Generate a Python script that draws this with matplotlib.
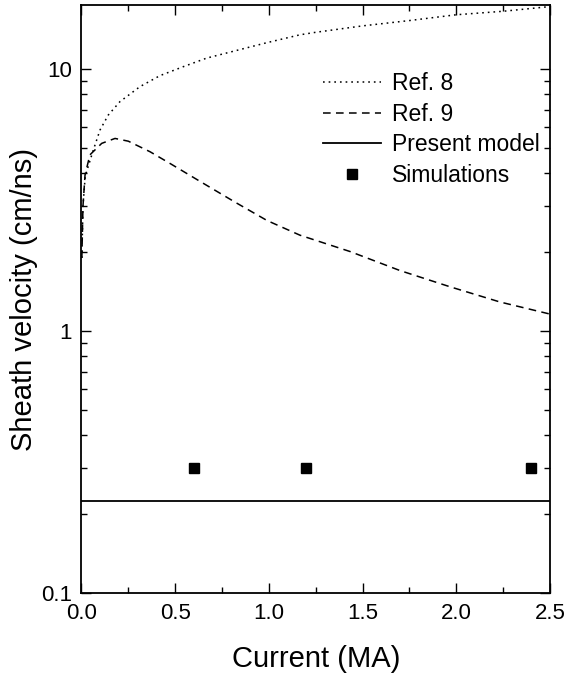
import numpy as np
import matplotlib
matplotlib.use("Agg")
import matplotlib.pyplot as plt
from matplotlib.ticker import MultipleLocator, LogLocator, FixedLocator, NullFormatter

plt.rcParams['font.family'] = ['Liberation Sans', 'DejaVu Sans']

# Ref. 8 (dotted)
x_ref8 = [0.002, 0.008, 0.02, 0.063, 0.099, 0.143, 0.205, 0.312, 0.419, 0.543,
          0.668, 0.99, 1.166, 1.25, 1.5, 1.75, 2.0, 2.25, 2.5]
v_ref8 = [1.9, 3.0, 3.9, 4.9, 5.85, 6.67, 7.5, 8.56, 9.43, 10.2,
          11.0, 12.6, 13.5, 13.8, 14.6, 15.3, 16.1, 16.6, 17.3]

# Ref. 9 (dashed)
x_ref9 = [0.002, 0.008, 0.019, 0.045, 0.108, 0.179, 0.25, 0.366, 0.472, 0.65,
          0.82, 0.99, 1.166, 1.433, 1.70, 1.966, 2.233, 2.5]
v_ref9 = [1.9, 3.0, 3.94, 4.7, 5.2, 5.43, 5.3, 4.83, 4.36, 3.66,
          3.1, 2.64, 2.32, 2.01, 1.70, 1.475, 1.29, 1.16]

# present model (solid)
x_model = [0.0, 2.5]
v_model = [0.224, 0.224]

# simulations
x_sim = [0.6, 1.2, 2.4]
v_sim = [0.30, 0.30, 0.30]

fig = plt.figure(figsize=(5.67, 6.75), dpi=100)
ax = fig.add_axes([0.1437, 0.1215, 0.8263, 0.8707])

ax.plot(x_ref8, v_ref8, color='black', lw=1.1, dashes=(1.1, 2.6), label='Ref. 8')
ax.plot(x_ref9, v_ref9, color='black', lw=1.1, dashes=(5, 3.5), label='Ref. 9')
ax.plot(x_model, v_model, color='black', lw=1.3, label='Present model')
ax.plot(x_sim, v_sim, 's', color='black', ms=7, label='Simulations')

ax.set_yscale('log')
ax.set_xlim(0, 2.5)
ax.set_ylim(0.1, 17.5)

ax.xaxis.set_major_locator(MultipleLocator(0.5))
ax.xaxis.set_minor_locator(MultipleLocator(0.25))
ax.xaxis.set_major_formatter(matplotlib.ticker.FormatStrFormatter('%.1f'))
ax.yaxis.set_major_locator(FixedLocator([0.1, 1, 10]))
ax.yaxis.set_major_formatter(matplotlib.ticker.FixedFormatter(['0.1', '1', '10']))
ax.yaxis.set_minor_locator(LogLocator(base=10, subs=np.arange(2, 10)))
ax.yaxis.set_minor_formatter(NullFormatter())

ax.tick_params(which='both', direction='in', top=True, right=True, width=1.0)
ax.tick_params(which='major', length=7, labelsize=16)
ax.tick_params(which='minor', length=4)
ax.tick_params(axis='x', which='major', pad=7)
ax.tick_params(axis='y', which='major', pad=7)
for s in ax.spines.values():
    s.set_linewidth(1.3)

ax.set_xlabel('Current (MA)', fontsize=21, labelpad=15)
ax.set_ylabel('Sheath velocity (cm/ns)', fontsize=21, labelpad=2)

ax.legend(loc='upper left', bbox_to_anchor=(0.515, 0.886), frameon=False,
          fontsize=16.5, borderpad=0, borderaxespad=0, handlelength=2.55,
          handletextpad=0.45, labelspacing=0.33)

fig.savefig('out.png', dpi=100)
